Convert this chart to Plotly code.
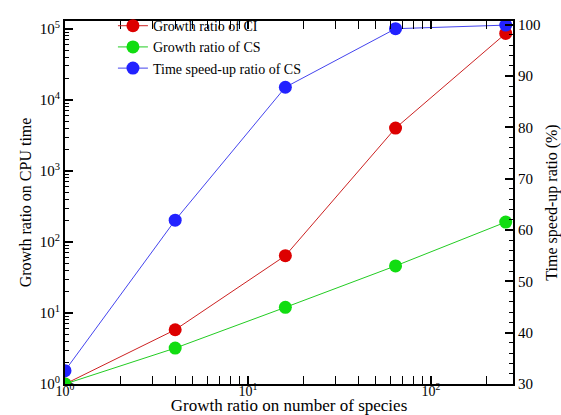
import plotly.graph_objects as go

species_ratio = [1, 4, 16, 64, 256]
ci_growth = [1, 5.8, 64, 4000, 86000]
cs_growth = [1, 3.2, 12, 46, 190]
cs_speedup = [32.6, 61.9, 87.8, 99.2, 99.9]

x_tickvals = [1, 10, 100]
x_ticktext = ["10<sup>0</sup>", "10<sup>1</sup>", "10<sup>2</sup>"]
y_tickvals = [1, 10, 100, 1000, 10000, 100000]
y_ticktext = ["10<sup>%d</sup>" % i for i in range(6)]

FONT = "Liberation Serif"

fig = go.Figure()
fig.add_trace(go.Scatter(x=species_ratio, y=ci_growth, name="Growth ratio of CI",
                         mode="lines+markers", line=dict(color="#cc2222", width=1),
                         marker=dict(color="#dd0000", size=13)))
fig.add_trace(go.Scatter(x=species_ratio, y=cs_growth, name="Growth ratio of CS",
                         mode="lines+markers", line=dict(color="#22cc22", width=1),
                         marker=dict(color="#11dd11", size=13)))
fig.add_trace(go.Scatter(x=species_ratio, y=cs_speedup, name="Time speed-up ratio of CS",
                         mode="lines+markers", line=dict(color="#4444ee", width=1),
                         marker=dict(color="#2222ff", size=13), yaxis="y2"))

minor_x = [v * 10 ** k for k in range(3) for v in range(2, 10)]
minor_y = [v * 10 ** k for k in range(6) for v in range(2, 10)]

axis_common = dict(showgrid=False, zeroline=False, showline=True, linecolor="black",
                   linewidth=2, ticks="inside", tickcolor="black", tickwidth=2,
                   ticklen=8, automargin=False)
tf = dict(family=FONT, size=15, color="black")

fig.update_layout(
    width=561, height=415,
    margin=dict(l=65, r=48, t=10, b=31),
    plot_bgcolor="white", paper_bgcolor="white",
    font=dict(family=FONT, color="black"),
    xaxis=dict(type="log", range=[0, 2.448], tickvals=x_tickvals, ticktext=x_ticktext,
               mirror="allticks", ticklabelstandoff=-7,
               tickfont=dict(family=FONT, size=14, color="black"),
               minor=dict(tickvals=minor_x, ticks="inside", ticklen=4, tickcolor="black", tickwidth=1),
               title=dict(text="Growth ratio on number of species", font=dict(family=FONT, size=17)),
               **axis_common),
    yaxis=dict(type="log", range=[0, 5.11], tickvals=y_tickvals, ticktext=y_ticktext,
               tickfont=tf,
               minor=dict(tickvals=minor_y, ticks="inside", ticklen=4, tickcolor="black", tickwidth=1),
               title=dict(text="Growth ratio on CPU time", font=dict(family=FONT, size=16), standoff=4),
               **axis_common),
    yaxis2=dict(overlaying="y", side="right", range=[30, 100.7], tickvals=list(range(30, 101, 10)),
                tickfont=tf,
                minor=dict(dtick=2, ticks="inside", ticklen=4, tickcolor="black", tickwidth=1),
                title=dict(text="Time speed-up ratio (%)", font=dict(family=FONT, size=16), standoff=6),
                **axis_common),
    legend=dict(x=0.107, y=1.03, xanchor="left", yanchor="top", bgcolor="rgba(0,0,0,0)",
                font=dict(family=FONT, size=14, color="black"), tracegroupgap=0),
    showlegend=True,
)

fig.write_html("out.html", config={"displayModeBar": False},
               post_script="document.body.style.margin='0';document.body.style.overflow='hidden';")
